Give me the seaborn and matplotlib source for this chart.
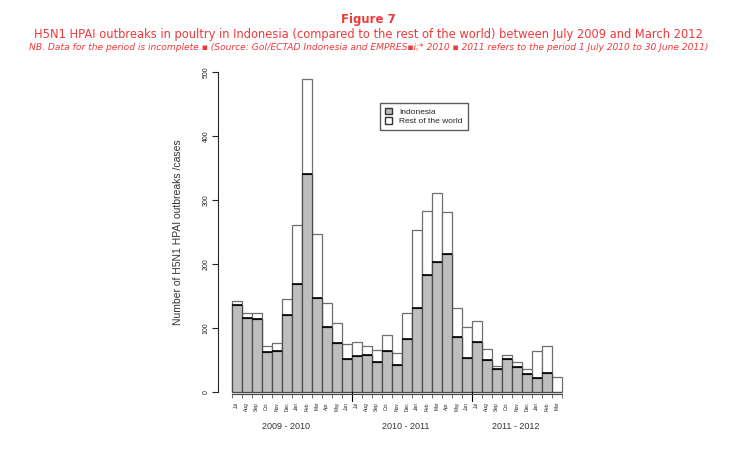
import numpy as np
import pandas as pd

import matplotlib
matplotlib.use("Agg")
import matplotlib.pyplot as plt
import seaborn as sns
from matplotlib.patches import Patch

# ---------------------
# Data
# ---------------------

months = ["Jul", "Aug", "Sep", "Oct", "Nov", "Dec",
          "Jan", "Feb", "Mar", "Apr", "May", "Jun"] * 2 + \
         ["Jul", "Aug", "Sep", "Oct", "Nov", "Dec", "Jan", "Feb", "Mar"]

indonesia = [136, 116, 115, 63, 65, 121, 169, 341, 148, 102, 77, 52,
             56, 58, 48, 64, 43, 83, 132, 184, 203, 216, 86, 53,
             78, 51, 37, 52, 40, 28, 23, 30, 0]

total = [143, 124, 124, 72, 77, 146, 262, 490, 247, 139, 109, 76,
         79, 73, 66, 90, 62, 124, 253, 284, 311, 281, 131, 102,
         112, 67, 41, 58, 47, 37, 64, 72, 24]

seasons = ["2009 - 2010", "2010 - 2011", "2011 - 2012"]
season_pos = [4.9, 16.9, 27.9]

df = pd.DataFrame({
    "idx": range(len(months)),
    "indonesia": indonesia,
    "total": total,
})

red = "#f0393a"

# ---------------------
# Plot
# ---------------------

sns.set_style("white")
plt.rcParams["font.family"] = ["Liberation Sans", "DejaVu Sans"]

fig = plt.figure(figsize=(7.37, 4.68), dpi=100)
ax = fig.add_axes([231.7 / 737, 1 - 392.3 / 468, 330 / 737, 320 / 468])

sns.barplot(
    data=df, x="idx", y="total",
    color="white", edgecolor="#6e6e6e", linewidth=0.9,
    width=1.0, saturation=1, ax=ax, clip_on=False
)
sns.barplot(
    data=df, x="idx", y="indonesia",
    color="#bebebe", edgecolor="#4a4a4a", linewidth=0.9,
    width=1.0, saturation=1, ax=ax, clip_on=False
)
# dark line on top of each Indonesia segment
ind = df[df["indonesia"] > 0]
ax.hlines(ind["indonesia"], ind["idx"] - 0.5, ind["idx"] + 0.5,
          color="black", lw=1.2, zorder=5)

ax.set_xlim(-0.5, len(months) - 0.5)
ax.set_ylim(0, 500)

# y axis in R style
ax.spines["top"].set_visible(False)
ax.spines["right"].set_visible(False)
ax.spines["left"].set_position(("outward", 10))
ax.spines["left"].set_bounds(0, 500)
ax.spines["bottom"].set_position(("outward", 1))
ax.spines["left"].set_linewidth(0.8)
ax.spines["bottom"].set_linewidth(0.8)
ax.spines["bottom"].set_color("#444444")

ax.set_yticks([0, 100, 200, 300, 400, 500])
ax.set_yticklabels(["0", "100", "200", "300", "400", "500"],
                   rotation=90, va="center", fontsize=5)
ax.tick_params(axis="y", left=True, length=4, width=0.8, pad=2)

# x axis: minor ticks at bar edges, labels at bar centres
ax.set_xticks(range(len(months)))
ax.set_xticklabels(months, rotation=90, fontsize=3.5)
ax.tick_params(axis="x", bottom=False, length=0, pad=6)
ax.set_xticks(np.arange(-0.5, len(months), 1.0), minor=True)
ax.tick_params(axis="x", which="minor", bottom=True, length=3,
               width=0.6, color="#555555")
for b in [11.5, 23.5]:
    ax.plot([b, b], [0, -14], color="black", lw=0.8, clip_on=False)

ax.set_xlabel("")
ax.set_ylabel("Number of H5N1 HPAI outbreaks /cases", fontsize=7.5,
              color="#333333", labelpad=14)

for name, pos in zip(seasons, season_pos):
    ax.text(pos, -53, name, ha="center", va="center", fontsize=6.5,
            color="#333333")

handles = [
    Patch(facecolor="#bebebe", edgecolor="#333333", label="Indonesia"),
    Patch(facecolor="white", edgecolor="#333333", label="Rest of the world"),
]
ax.legend(
    handles=handles, loc="upper left", bbox_to_anchor=(0.449, 0.904),
    borderaxespad=0, fontsize=6, frameon=True, fancybox=False,
    edgecolor="#333333", handlelength=0.8, handleheight=0.8,
    handletextpad=0.9, borderpad=0.6, labelspacing=0.15
)

# ---------------------
# Titles
# ---------------------

fig.text(0.5, 1 - 20 / 468, "Figure 7", ha="center", va="center",
         color=red, fontsize=8.5, fontweight="bold", family="DejaVu Sans")
fig.text(0.5, 1 - 34.5 / 468,
         "H5N1 HPAI outbreaks in poultry in Indonesia (compared to the rest "
         "of the world) between July 2009 and March 2012",
         ha="center", va="center", color=red, fontsize=8.3,
         family="DejaVu Sans")
fig.text(0.5, 1 - 47 / 468,
         "NB. Data for the period is incomplete \u25aa (Source: GoI/ECTAD "
         "Indonesia and EMPRES\u25aai;* 2010 \u25aa 2011 refers to the period "
         "1 July 2010 to 30 June 2011)",
         ha="center", va="center", color=red, fontsize=6.6,
         style="italic", family="DejaVu Sans")

plt.savefig("out.png", dpi=100)
